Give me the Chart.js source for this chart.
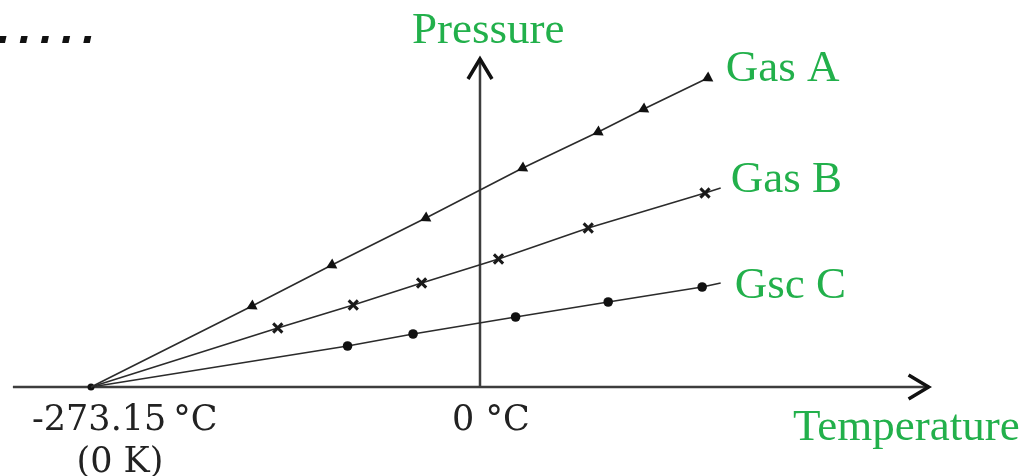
<!DOCTYPE html>
<html>
<head>
<meta charset="utf-8">
<title>Pressure vs Temperature</title>
<script src="https://cdn.jsdelivr.net/npm/chart.js@4/dist/chart.umd.min.js"></script>
<style>
  html, body { margin: 0; padding: 0; background: #ffffff; }
  #wrap { width: 1033px; height: 476px; }
</style>
</head>
<body>
<div id="wrap"><canvas id="c" width="1033" height="476"></canvas></div>
<script>
// Temperatures in °C, pressures in arbitrary units. Every line starts at absolute zero.
const gasATemp     = [-273.15, -160, -104, -38, 30, 83, 115, 160];
const gasAPressure = [0, 8.1, 12.2, 16.9, 21.9, 25.5, 27.8, 30.9];

const gasBTemp     = [-273.15, -142, -89, -41, 13, 76, 158, 169];
const gasBPressure = [0, 5.9, 8.2, 10.4, 12.8, 15.9, 19.4, 19.9];

const gasCTemp     = [-273.15, -93, -47, 25, 90, 156, 169];
const gasCPressure = [0, 4.1, 5.3, 7.0, 8.5, 10.0, 10.4];

const seriesNames  = ['Gas A', 'Gas B', 'Gsc C'];
const xTickValues  = [-273.15, 0];
const xTickLabels  = ['-273.15\u2009°C', '0 °C'];
const xTickSubLabels = ['(0 K)', ''];
const xAxisTitle   = 'Temperature';
const yAxisTitle   = 'Pressure';

const toPoints = (xs, ys) => xs.map((x, i) => ({ x: x, y: ys[i] }));

const GREEN = '#22b04b';
const INK = '#2b2b2b';

// Markers are hidden on the shared origin and on the bare line ends.
const hideEnds = (n, keepFirst) => ctx =>
  (ctx.dataIndex === 0 && !keepFirst) || ctx.dataIndex >= n ? 0 : null;

const axesPlugin = {
  id: 'axesPlugin',
  beforeDatasetsDraw(chart) {
    const { ctx, scales: { x, y } } = chart;
    const y0 = y.getPixelForValue(0);
    const x0 = x.getPixelForValue(0);
    const left = x.getPixelForValue(-328);
    const right = x.getPixelForValue(315);
    const top = y.getPixelForValue(32.8);
    ctx.save();
    ctx.strokeStyle = '#3d3d3d';
    ctx.lineWidth = 2.5;
    ctx.beginPath();
    ctx.moveTo(left, y0); ctx.lineTo(right - 2, y0);
    ctx.moveTo(x0, y0); ctx.lineTo(x0, top + 2);
    ctx.stroke();
    // arrow heads
    ctx.strokeStyle = '#111';
    ctx.lineWidth = 3.5;
    ctx.lineJoin = 'miter';
    ctx.lineCap = 'butt';
    ctx.beginPath();
    ctx.moveTo(right - 20, y0 - 12); ctx.lineTo(right, y0); ctx.lineTo(right - 20, y0 + 12);
    ctx.moveTo(x0 - 12, top + 20); ctx.lineTo(x0, top); ctx.lineTo(x0 + 12, top + 20);
    ctx.stroke();
    ctx.restore();
  },
  afterDraw(chart) {
    const { ctx, scales: { x, y } } = chart;
    const y0 = y.getPixelForValue(0);
    ctx.save();
    // dotted rule in the upper left corner
    ctx.fillStyle = '#111';
    for (let i = 0; i < 5; i++) {
      const cx = 2.5 + 21.2 * i, cy = 39.5;
      ctx.beginPath();
      ctx.moveTo(cx - 2.5, cy - 3.5);
      ctx.lineTo(cx + 4, cy - 3.5);
      ctx.lineTo(cx + 2.5, cy + 3.5);
      ctx.lineTo(cx - 4, cy + 3.5);
      ctx.closePath();
      ctx.fill();
    }
    // tick labels
    ctx.fillStyle = '#222';
    ctx.font = '35px "DejaVu Serif"';
    ctx.textBaseline = 'alphabetic';
    ctx.textAlign = 'left';
    const tickOffsets = [-59, -28];
    xTickValues.forEach((v, i) => {
      const px = x.getPixelForValue(v);
      ctx.fillText(xTickLabels[i], px + tickOffsets[i], y0 + 43);
      if (xTickSubLabels[i]) {
        ctx.textAlign = 'center';
        ctx.fillText(xTickSubLabels[i], px + 29, y0 + 85);
        ctx.textAlign = 'left';
      }
    });
    // axis titles and series names
    ctx.fillStyle = GREEN;
    ctx.font = '45px "Liberation Serif"';
    ctx.textAlign = 'left';
    ctx.fillText(yAxisTitle, 412, 43);
    ctx.fillText(xAxisTitle, 793, 440);
    const meta = chart.data.datasets.map((d, i) => chart.getDatasetMeta(i));
    const nameOffsets = [[18, 3], [10, 4], [14, 15]];
    meta.forEach((m, i) => {
      const last = m.data[m.data.length - 1];
      ctx.fillText(seriesNames[i], last.x + nameOffsets[i][0], last.y + nameOffsets[i][1]);
    });
    ctx.restore();
  }
};

new Chart(document.getElementById('c'), {
  type: 'scatter',
  data: {
    datasets: [
      {
        label: seriesNames[0],
        data: toPoints(gasATemp, gasAPressure),
        showLine: true,
        borderColor: INK,
        borderWidth: 1.6,
        backgroundColor: '#111',
        pointStyle: 'triangle',
        pointRotation: 243,
        pointRadius: ctx => hideEnds(gasATemp.length, false)(ctx) ?? 6.5,
        pointBorderWidth: 0,
        pointBackgroundColor: '#111'
      },
      {
        label: seriesNames[1],
        data: toPoints(gasBTemp, gasBPressure),
        showLine: true,
        borderColor: INK,
        borderWidth: 1.6,
        pointStyle: 'crossRot',
        pointRadius: ctx => hideEnds(gasBTemp.length - 1, false)(ctx) ?? 6.5,
        pointBorderWidth: 3,
        pointBorderColor: '#1a1a1a'
      },
      {
        label: seriesNames[2],
        data: toPoints(gasCTemp, gasCPressure),
        showLine: true,
        borderColor: INK,
        borderWidth: 1.6,
        pointStyle: 'circle',
        pointRadius: ctx => ctx.dataIndex === 0 ? 3.5 : (ctx.dataIndex >= gasCTemp.length - 1 ? 0 : 4.8),
        pointBorderWidth: 0,
        pointBackgroundColor: '#111'
      }
    ]
  },
  options: {
    responsive: false,
    animation: false,
    layout: { padding: 0, autoPadding: false },
    plugins: { legend: { display: false }, tooltip: { enabled: false } },
    elements: { line: { tension: 0 } },
    scales: {
      x: { type: 'linear', display: false, min: -337.05, max: 388.31 },
      y: { type: 'linear', display: false, min: -8.9, max: 38.7 }
    }
  },
  plugins: [axesPlugin]
});
</script>
</body>
</html>
